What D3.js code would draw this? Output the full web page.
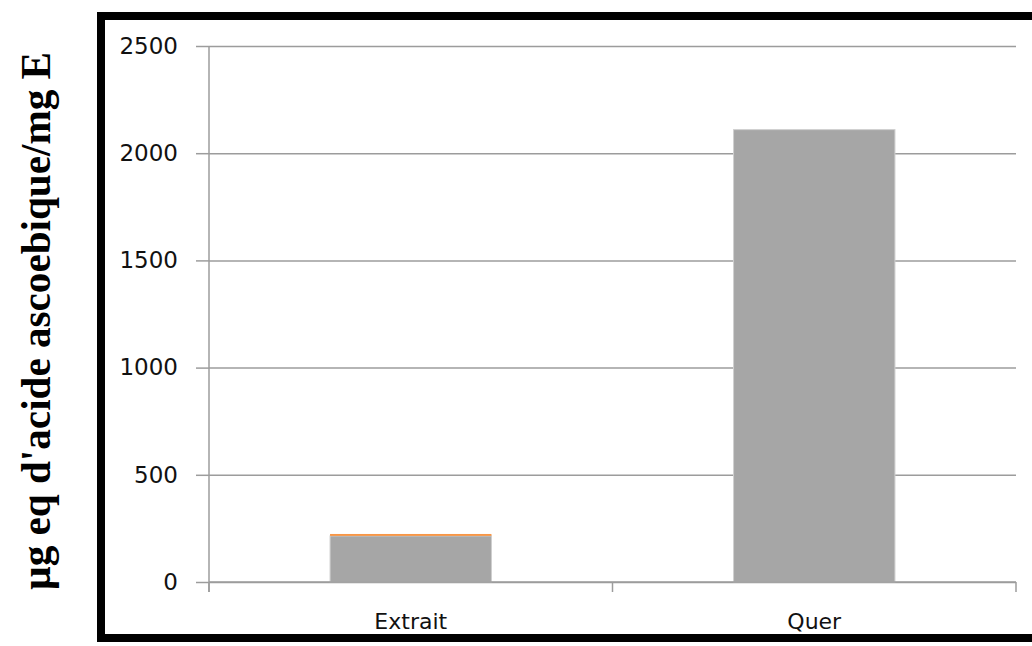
<!DOCTYPE html>
<html>
<head>
<meta charset="utf-8">
<script src="https://cdn.jsdelivr.net/npm/d3@7"></script>
<style>
  body { margin: 0; background: #fff; }
  svg { display: block; }
</style>
</head>
<body>
<svg id="chart" width="1032" height="646"></svg>
<script>
// values
const categories = ["Extrait", "Quer"];
const mainValues = [215, 2110];   // grey bars
const topValues = [9, 0];         // thin orange segment on top
const yTicks = [0, 500, 1000, 1500, 2000, 2500];
const yLabel = "\u00b5g eq d'acide ascoebique/mg E";

const svg = d3.select("#chart");
const plotL = 209, plotR = 1016, plotT = 46, plotB = 582;

// frame round the chart (right side falls off the picture)
svg.append("rect")
  .attr("x", 101).attr("y", 16)
  .attr("width", 960).attr("height", 622)
  .attr("fill", "none").attr("stroke", "#000").attr("stroke-width", 8);

const x = d3.scaleBand().domain(categories).range([plotL, plotR])
  .paddingInner(0.6).paddingOuter(0.3);
const y = d3.scaleLinear().domain([0, 2500]).range([plotB, plotT]);

// gridlines + left ticks
const yAxis = d3.axisLeft(y).tickValues(yTicks).tickFormat(d3.format("d"))
  .tickSize(13).tickSizeOuter(0).tickPadding(18);
const gy = svg.append("g").attr("transform", `translate(${plotL},0)`).call(yAxis);
gy.select(".domain").remove();
gy.selectAll(".tick line").attr("stroke", "#9c9c9c").attr("stroke-width", 1.5);
gy.selectAll(".tick").append("line")
  .attr("x1", 0).attr("x2", plotR - plotL)
  .attr("stroke", "#9c9c9c").attr("stroke-width", 1.5);
gy.selectAll(".tick text")
  .attr("font-family", "DejaVu Sans").attr("font-size", 23).attr("fill", "#111");

// bars
const data = categories.map((c, i) => ({ c, a: mainValues[i], b: topValues[i] }));
svg.selectAll("rect.main").data(data).enter().append("rect")
  .attr("class", "main")
  .attr("x", d => x(d.c))
  .attr("y", d => y(d.a))
  .attr("width", x.bandwidth())
  .attr("height", d => y(0) - y(d.a))
  .attr("fill", "#a6a6a6")
  .attr("stroke", "#cfcfcf").attr("stroke-width", 1);
svg.selectAll("rect.top").data(data.filter(d => d.b > 0)).enter().append("rect")
  .attr("class", "top")
  .attr("x", d => x(d.c))
  .attr("y", d => y(d.a + d.b))
  .attr("width", x.bandwidth())
  .attr("height", d => y(d.a) - y(d.a + d.b))
  .attr("fill", "#f79646");

// y axis line
svg.append("line")
  .attr("x1", plotL).attr("x2", plotL).attr("y1", plotT).attr("y2", plotB + 10)
  .attr("stroke", "#9c9c9c").attr("stroke-width", 1.5);

// x axis line with boundary ticks
const xb = [plotL, plotL + (plotR - plotL) / 2, plotR];
svg.append("line")
  .attr("x1", plotL).attr("x2", plotR).attr("y1", plotB).attr("y2", plotB)
  .attr("stroke", "#9c9c9c").attr("stroke-width", 1.5);
svg.selectAll("line.xt").data(xb).enter().append("line")
  .attr("class", "xt")
  .attr("x1", d => d).attr("x2", d => d).attr("y1", plotB).attr("y2", plotB + 10)
  .attr("stroke", "#9c9c9c").attr("stroke-width", 1.5);

svg.selectAll("text.cat").data(categories).enter().append("text")
  .attr("class", "cat")
  .attr("x", d => x(d) + x.bandwidth() / 2)
  .attr("y", 629)
  .attr("text-anchor", "middle")
  .attr("font-family", "DejaVu Sans").attr("font-size", 22).attr("fill", "#111")
  .text(d => d);

// y label (squeezed along its length, as in the source image)
svg.append("text")
  .attr("transform", "translate(50,321) rotate(-90)")
  .attr("text-anchor", "middle")
  .attr("font-family", "Liberation Serif").attr("font-weight", "bold")
  .attr("font-size", 42).attr("fill", "#000")
  .attr("textLength", 538).attr("lengthAdjust", "spacingAndGlyphs")
  .text(yLabel);
</script>
</body>
</html>
